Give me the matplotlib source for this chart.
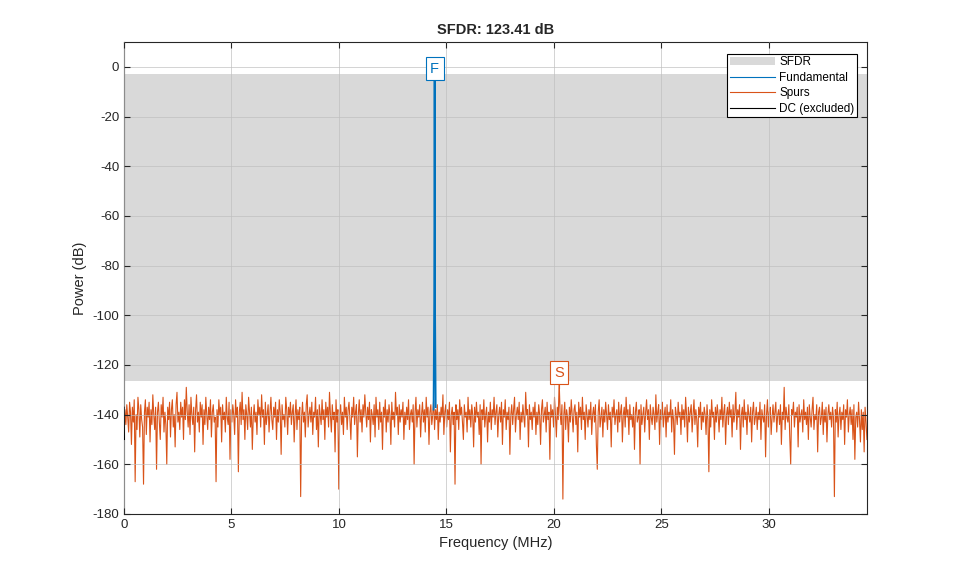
import numpy as np
import matplotlib
matplotlib.use('Agg')
import matplotlib.pyplot as plt
from matplotlib.patches import Patch
from matplotlib.lines import Line2D

plt.rcParams['font.family'] = ['Liberation Sans', 'DejaVu Sans']
plt.rcParams['axes.unicode_minus'] = False

# spectrum data (MHz, dB)
f_max = 34.56
noise_db = [
    -150, -138, -144, -136, -141, -147, -135, -139, -152, -137, -143, -134, -167, -140, -146, -133, -138, -149, -136, -142,
    -145, -168, -139, -134, -148, -137, -141, -135, -151, -138, -144, -132, -140, -146, -137, -162, -139, -135, -143, -150,
    -136, -141, -133, -147, -139, -144, -160, -137, -142, -135, -149, -138, -134, -145, -140, -153, -136, -131, -143, -139,
    -146, -135, -141, -137, -150, -134, -142, -129, -139, -145, -136, -148, -133, -140, -144, -137, -155, -138, -132, -143,
    -139, -147, -135, -141, -136, -152, -138, -144, -133, -140, -146, -137, -142, -134, -149, -139, -136, -143, -141, -167,
    -138, -145, -134, -140, -137, -151, -136, -142, -139, -147, -133, -141, -144, -135, -158, -138, -143, -136, -140, -148,
    -134, -141, -137, -163, -139, -135, -144, -131, -142, -138, -150, -136, -140, -146, -133, -139, -145, -137, -154, -141,
    -136, -143, -139, -148, -134, -140, -137, -145, -132, -141, -138, -152, -135, -144, -140, -136, -147, -139, -133, -142,
    -146, -137, -141, -135, -150, -138, -143, -134, -139, -156, -136, -142, -140, -145, -133, -138, -148, -137, -141, -135,
    -144, -139, -136, -151, -140, -134, -146, -138, -142, -137, -173, -141, -135, -143, -139, -149, -136, -132, -145, -140,
    -137, -143, -135, -148, -139, -141, -133, -146, -138, -153, -136, -140, -144, -134, -142, -138, -150, -135, -141, -137,
    -145, -131, -140, -147, -136, -142, -139, -155, -134, -143, -138, -170, -140, -136, -144, -139, -148, -133, -141, -137,
    -146, -138, -135, -142, -150, -137, -141, -133, -144, -139, -136, -157, -140, -134, -143, -138, -147, -136, -141, -132,
    -139, -145, -137, -142, -135, -151, -138, -140, -144, -136, -149, -133, -141, -138, -146, -135, -143, -139, -154, -137,
    -141, -134, -147, -138, -143, -136, -140, -152, -135, -142, -139, -145, -131, -140, -137, -148, -136, -143, -138, -141,
    -135, -150, -139, -144, -137, -142, -134, -146, -140, -138, -143, -136, -160, -139, -133, -145, -138, -141, -136, -149,
    -140, -135, -143, -138, -147, -133, -141, -137, -152, -139, -136, -144, -140, -134, -146, -138, -142, -136, -150, -139,
    -143, -137, -141, -132, -148, -139, -136, -145, -138, -142, -135, -155, -140, -137, -144, -139, -168, -136, -142, -138,
    -146, -134, -140, -137, -143, -150, -136, -141, -139, -147, -133, -142, -138, -145, -136, -140, -153, -137, -143, -135,
    -141, -139, -148, -136, -160, -138, -142, -134, -145, -140, -137, -151, -139, -143, -135, -146, -138, -141, -133, -144,
    -139, -136, -149, -140, -137, -143, -135, -152, -138, -141, -134, -146, -139, -142, -137, -156, -140, -136, -144, -138,
    -133, -147, -140, -137, -142, -135, -150, -139, -143, -136, -141, -145, -131, -140, -138, -153, -136, -142, -139, -146,
    -137, -141, -135, -148, -139, -144, -136, -140, -152, -138, -134, -143, -140, -137, -147, -135, -142, -139, -158, -136,
    -141, -138, -145, -133, -140, -149, -137, -142, -126.41, -139, -144, -136, -174, -140, -135, -146, -138, -141, -151, -137,
    -143, -134, -140, -147, -138, -136, -144, -139, -155, -135, -141, -137, -146, -133, -142, -139, -150, -136, -140, -145,
    -138, -142, -135, -148, -140, -137, -143, -136, -152, -162, -139, -134, -145, -141, -137, -149, -138, -143, -135, -140,
    -146, -136, -142, -139, -153, -137, -141, -134, -144, -140, -138, -147, -135, -143, -139, -136, -151, -140, -137, -145,
    -133, -141, -138, -148, -136, -142, -140, -145, -137, -154, -139, -135, -143, -141, -138, -160, -136, -144, -140, -137,
    -147, -139, -134, -142, -138, -150, -136, -141, -144, -137, -140, -146, -132, -143, -139, -136, -152, -138, -142, -135,
    -145, -140, -137, -149, -136, -143, -139, -141, -134, -147, -138, -142, -156, -137, -140, -144, -135, -141, -139, -148,
    -136, -142, -138, -145, -133, -140, -151, -137, -143, -139, -136, -147, -140, -134, -144, -138, -142, -153, -137, -141,
    -135, -146, -139, -143, -137, -140, -148, -136, -142, -163, -138, -145, -134, -141, -139, -150, -137, -143, -136, -140,
    -147, -138, -142, -133, -145, -139, -136, -152, -140, -137, -144, -135, -141, -138, -149, -136, -143, -139, -131, -146,
    -138, -141, -136, -154, -140, -137, -145, -134, -142, -139, -148, -136, -140, -143, -137, -151, -139, -135, -144, -141,
    -137, -146, -139, -142, -135, -150, -138, -141, -143, -136, -157, -140, -134, -145, -139, -137, -148, -141, -136, -143,
    -139, -135, -147, -140, -138, -144, -136, -152, -139, -142, -129, -146, -137, -141, -143, -136, -149, -160, -138, -140,
    -135, -145, -139, -141, -137, -153, -136, -143, -140, -138, -147, -134, -142, -139, -144, -137, -150, -136, -141, -145,
    -138, -133, -146, -140, -142, -136, -155, -139, -137, -144, -141, -135, -148, -138, -143, -137, -151, -140, -136, -142,
    -139, -145, -137, -141, -173, -138, -143, -135, -149, -140, -137, -146, -139, -142, -136, -152, -138, -141, -134, -147,
    -140, -137, -144, -138, -150, -136, -158, -141, -139, -145, -135, -142, -151, -138, -146, -139, -155, -137, -143, -150,
]
freq = np.linspace(0, f_max, len(noise_db))
noise_db = np.array(noise_db)

fund_freq = [14.40, 14.43, 14.45, 14.47, 14.50]
fund_db = [-138, -95, -3.0, -98, -137]
dc_freq = [0, 0.02]
dc_db = [-137, -150]

fund_power = max(fund_db)
spur_idx = int(np.argmax(noise_db))
spur_power = noise_db[spur_idx]
sfdr = fund_power - spur_power

blue = '#0072BD'
orange = '#D95319'

fig = plt.figure(figsize=(9.59, 5.77), dpi=100)
ax = fig.add_axes([0.1293, 0.1092, 0.7747, 0.8178])

ax.axhspan(spur_power, fund_power, color='#D9D9D9', lw=0, zorder=0)
ax.plot(freq, noise_db, color=orange, lw=0.8, zorder=2)
ax.plot(fund_freq, fund_db, color=blue, lw=1.3, zorder=3)
ax.plot(dc_freq, dc_db, color='black', lw=0.8, zorder=3)

# markers
ax.text(fund_freq[2], fund_power - 0.5, 'F', color=blue, ha='center', va='bottom',
        fontsize=10.5, zorder=5,
        bbox=dict(boxstyle='square,pad=0.3', fc='white', ec=blue, lw=0.8))
ax.plot([freq[spur_idx], freq[spur_idx]], [spur_power - 3, spur_power + 1], color=orange, lw=0.8, zorder=4)
ax.text(freq[spur_idx], spur_power + 0.5, 'S', color=orange, ha='center', va='bottom',
        fontsize=10.5, zorder=5,
        bbox=dict(boxstyle='square,pad=0.3', fc='white', ec=orange, lw=0.8))

ax.set_xlim(0, f_max)
ax.set_ylim(-180, 10)
ax.set_xticks([0, 5, 10, 15, 20, 25, 30])
ax.set_yticks(np.arange(-180, 1, 20))
ax.grid(True, color='#BFBFBF', lw=0.6, alpha=0.8)
ax.set_axisbelow(False)
ax.tick_params(direction='in', top=True, right=True, labelsize=9.5, colors='#262626',
               length=4, width=0.8)
for s in ax.spines.values():
    s.set_color('#262626')
    s.set_linewidth(0.8)

ax.set_xlabel('Frequency (MHz)', fontsize=10.5, color='#262626')
ax.set_ylabel('Power (dB)', fontsize=10.5, color='#262626')
ax.set_title('SFDR: %.2f dB' % sfdr, fontsize=10.5, fontweight='bold', color='#262626')

handles = [Patch(facecolor='#D9D9D9', edgecolor='none', label='SFDR'),
           Line2D([], [], color=blue, lw=0.8, label='Fundamental'),
           Line2D([], [], color=orange, lw=0.8, label='Spurs'),
           Line2D([], [], color='black', lw=0.8, label='DC (excluded)')]
leg = ax.legend(handles=handles, loc='upper right', fontsize=8.5, fancybox=False,
                framealpha=1, edgecolor='black', borderpad=0.2, labelspacing=0.3,
                handlelength=3.8, handletextpad=0.4, borderaxespad=0,
                bbox_to_anchor=(0.9865, 0.975))
leg.get_frame().set_linewidth(0.8)
leg.set_zorder(10)

fig.savefig('out.png', dpi=100)
